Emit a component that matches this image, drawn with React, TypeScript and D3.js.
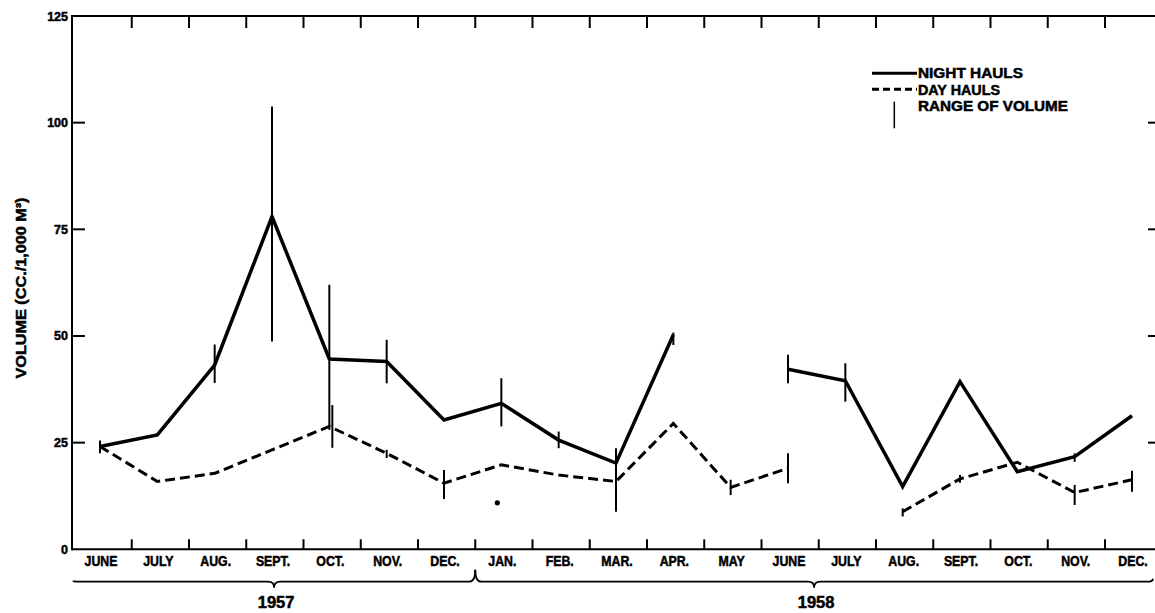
import React from 'react';
import * as d3 from 'd3';

// months June 1957 .. Dec 1958
const months = ['JUNE', 'JULY', 'AUG.', 'SEPT.', 'OCT.', 'NOV.', 'DEC.', 'JAN.', 'FEB.', 'MAR.', 'APR.', 'MAY',
  'JUNE', 'JULY', 'AUG.', 'SEPT.', 'OCT.', 'NOV.', 'DEC.'];

// mean volumes, null = no hauls that month
const nightHauls = [24.1, 26.8, 43.2, 78.0, 44.6, 44.0, 30.3, 34.2, 25.6, 20.2, 50.3, null,
  42.2, 39.5, 14.7, 39.3, 18.2, 21.7, 31.3];
const dayHauls = [24.1, 15.9, 17.8, 23.3, 28.8, 22.5, 15.5, 19.8, 17.4, 15.9, 29.5, 14.5,
  19.0, null, 8.8, 16.5, 20.4, 13.3, 16.3];

// range of volume: [month index, low, high]
const nightRange = [[0, 22.5, 25.5], [2, 39, 48], [3, 48.7, 103.8], [4, 28, 62], [5, 38.9, 49.1],
  [7, 28.8, 40.1], [8, 23.7, 27.6], [9, 16.7, 23.7], [10, 47.9, 50.8], [12, 38.9, 45.6],
  [13, 34.6, 43.6], [17, 20.5, 22.5]];
const dayRange = [[4, 23.8, 33.8], [5, 21.4, 23.3], [6, 11.8, 18.6], [9, 8.8, 23.3], [11, 12.7, 16.3],
  [12, 15.5, 22.5], [14, 7.7, 9.6], [15, 15.6, 17.4], [17, 10.4, 15.1], [18, 13.5, 18.4]];

// single day haul value plotted alone
const loneDot = [[7, 10.9]];

const yTicks = [0, 25, 50, 75, 100, 125];
const years = [{ label: '1957', from: 0, to: 7 }, { label: '1958', from: 7, to: 19 }];

const W = 1155, H = 613;
const font = '"Liberation Sans", Arial, sans-serif';

export default function App() {
  const y = d3.scaleLinear().domain([0, 125]).range([549.3, 16]);
  const idx = d3.range(months.length);
  const x = d3.scalePoint<number>().domain(idx).range([100, 1132]);
  const band = d3.scaleBand<number>().domain(idx).range([74.5, 1162.25]);

  const left = 72, right = 1160, top = y(125), bottom = y(0);

  const line = d3.line<number | null>()
    .defined(d => d != null)
    .x((d, i) => x(i) as number)
    .y(d => y(d as number));

  const braceY = 581.7;
  const brace = (x0: number, x1: number, upL: number, upR: number) => {
    const c = (x0 + x1) / 2, r = 6;
    return `M${x0},${braceY - upL} Q${x0},${braceY} ${x0 + r},${braceY} L${c - r},${braceY} ` +
      `Q${c},${braceY} ${c},${braceY + 6} Q${c},${braceY} ${c + r},${braceY} ` +
      `L${x1 - r},${braceY} Q${x1},${braceY} ${x1},${braceY - upR}`;
  };

  const boundaries = idx.slice(1).map(i => band(i) as number);

  return (
    <div style={{ position: 'absolute', left: 0, top: 0 }}>
      <svg width={W} height={H} style={{ background: '#fff', display: 'block' }} fontFamily={font} fontWeight="bold">
        {/* frame */}
        <g stroke="#000" strokeWidth={2} fill="none">
          <line x1={left} x2={left} y1={top - 1} y2={bottom + 1} />
          <line x1={left} x2={right} y1={top} y2={top} />
          <line x1={left} x2={right} y1={bottom} y2={bottom} />
          <line x1={right} x2={right} y1={top} y2={bottom} />
          {yTicks.filter(t => t > 0 && t < 125).map(t => (
            <g key={t}>
              <line x1={left} x2={left + 13} y1={y(t)} y2={y(t)} />
              <line x1={right} x2={right - 12} y1={y(t)} y2={y(t)} />
            </g>
          ))}
          {boundaries.map((b, i) => (
            <g key={i}>
              <line x1={b} x2={b} y1={top} y2={top + 12} />
              <line x1={b} x2={b} y1={bottom} y2={bottom - 10} />
            </g>
          ))}
        </g>

        <g stroke="#000" strokeWidth={0.5}>
          {/* y tick labels */}
          {yTicks.map(t => (
            <text key={t} x={68} y={y(t)} dy="0.36em" textAnchor="end" fontSize={12.5}>{t}</text>
          ))}

          <text transform="translate(26,288) rotate(-90)" textAnchor="middle" fontSize={14.5}
            textLength={181} lengthAdjust="spacingAndGlyphs">VOLUME (CC./1,000 M³)</text>

          {/* month labels */}
          {months.map((m, i) => (
            <text key={i} transform={`translate(${(x(i) as number) + 1},566) scale(0.88,1)`} textAnchor="middle"
              fontSize={14}>{m}</text>
          ))}

          {/* legend text */}
          <g fontSize={14}>
            <text x={918} y={78} textLength={105} lengthAdjust="spacingAndGlyphs">NIGHT HAULS</text>
            <text x={918} y={95} textLength={82} lengthAdjust="spacingAndGlyphs">DAY HAULS</text>
            <text x={918} y={111} textLength={150} lengthAdjust="spacingAndGlyphs">RANGE OF VOLUME</text>
          </g>
        </g>

        {/* year braces */}
        {years.map((yr, j) => {
          const x0 = j === 0 ? left + 1 : band(yr.from) as number;
          const x1 = j === years.length - 1 ? 1153 : band(yr.to) as number;
          return (
            <g key={yr.label}>
              <path d={brace(x0, x1, j === 0 ? 1 : 12, j === 0 ? 12 : 3)} fill="none" stroke="#000" strokeWidth={1.8} />
              <text x={(x0 + x1) / 2 + 2} y={608} textAnchor="middle" fontSize={16.5}
                stroke="#000" strokeWidth={0.5}>{yr.label}</text>
            </g>
          );
        })}

        {/* range bars */}
        <g stroke="#000" strokeWidth={2}>
          {nightRange.map(([i, lo, hi]) => (
            <line key={'n' + i} x1={x(i)} x2={x(i)} y1={y(lo)} y2={y(hi)} />
          ))}
          {dayRange.map(([i, lo, hi]) => (
            <line key={'d' + i} x1={(x(i) as number) + (i === 4 ? 3 : 0)} x2={(x(i) as number) + (i === 4 ? 3 : 0)}
              y1={y(lo)} y2={y(hi)} />
          ))}
        </g>

        {/* series */}
        <path d={line(nightHauls) || ''} fill="none" stroke="#000" strokeWidth={3.5} strokeLinejoin="miter" />
        <path d={line(dayHauls) || ''} fill="none" stroke="#000" strokeWidth={3} strokeDasharray="10,5" />
        {loneDot.map(([i, v]) => (
          <circle key={i} cx={(x(i) as number) - 4} cy={y(v)} r={2.6} fill="#000" />
        ))}

        {/* legend marks */}
        <g stroke="#000">
          <line x1={872} x2={917} y1={73.3} y2={73.3} strokeWidth={3} />
          <line x1={872} x2={917} y1={89.3} y2={89.3} strokeWidth={3} strokeDasharray="7,4" />
          <line x1={894.3} x2={894.3} y1={101.7} y2={128.3} strokeWidth={1.5} />
        </g>
      </svg>
    </div>
  );
}
